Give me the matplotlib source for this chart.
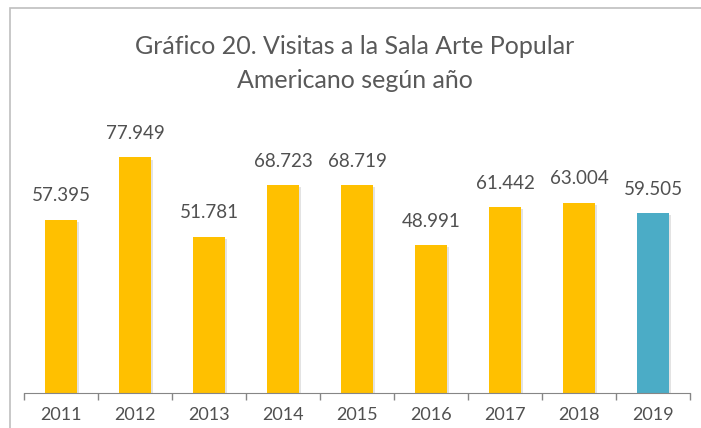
import matplotlib.pyplot as plt
from matplotlib.patches import Rectangle
import matplotlib.patheffects as pe
import numpy as np

years = ['2011', '2012', '2013', '2014', '2015', '2016', '2017', '2018', '2019']
visits = [57.395, 77.949, 51.781, 68.723, 68.719, 48.991, 61.442, 63.004, 59.505]
labels = ['57.395', '77.949', '51.781', '68.723', '68.719', '48.991', '61.442', '63.004', '59.505']
colors = ['#FFC000'] * 8 + ['#4BACC6']

plt.rcParams['font.family'] = ['Lato', 'DejaVu Sans']

fig = plt.figure(figsize=(7.01, 4.28), dpi=100)
# outer chart border
fig.patches.append(Rectangle((10 / 701, -0.05), 1.0, 1 - 8 / 428 + 0.05,
                             transform=fig.transFigure, fill=False,
                             edgecolor='#BFBFBF', linewidth=1.2))

ax = fig.add_axes([24 / 701, 1 - 393 / 428, 666 / 701, 272 / 428])
x = np.arange(len(years))
bars = ax.bar(x, visits, width=0.42, color=colors, zorder=2)
# light drop shadow like the office chart
for b in bars:
    b.set_path_effects([pe.SimplePatchShadow(offset=(1.5, -1.5), shadow_rgbFace='#c8c8c8', alpha=0.5),
                        pe.Normal()])

for b, lab in zip(bars, labels):
    ax.annotate(lab, (b.get_x() + b.get_width() / 2, b.get_height()),
                xytext=(0, 11), textcoords='offset points',
                ha='center', va='bottom', fontsize=13.5, color='#505050')

ax.set_xlim(-0.5, len(years) - 0.5)
ax.set_ylim(0, 90)
ax.set_yticks([])
ax.set_xticks(x)
ax.set_xticklabels(years, fontsize=13, color='#505050')
ax.set_xticks(np.arange(-0.5, len(years)), minor=True)
ax.tick_params(axis='x', which='major', length=0, pad=10)
ax.tick_params(axis='x', which='minor', length=5, color='#868686', width=1)
for s in ['top', 'right', 'left']:
    ax.spines[s].set_visible(False)
ax.spines['bottom'].set_color('#868686')

fig.text(355 / 701, 1 - 47 / 428, 'Gráfico 20. Visitas a la Sala Arte Popular',
         ha='center', va='center', fontsize=18, color='#595959')
fig.text(355 / 701, 1 - 81 / 428, 'Americano según año',
         ha='center', va='center', fontsize=18, color='#595959')

fig.savefig('out.png', dpi=100)
